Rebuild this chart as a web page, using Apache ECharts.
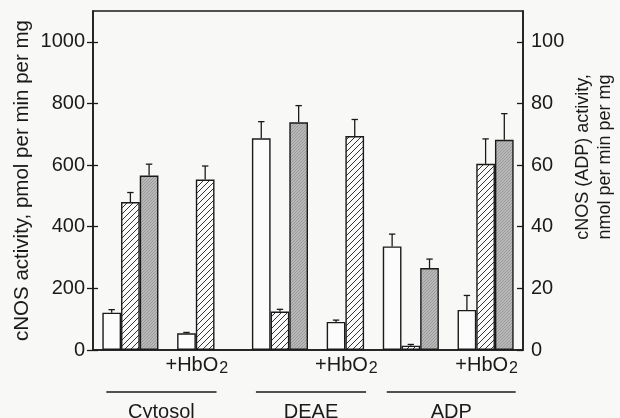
<!DOCTYPE html>
<html>
<head>
<meta charset="utf-8">
<script src="https://cdn.jsdelivr.net/npm/echarts@6/dist/echarts.min.js"></script>
<style>
  html, body { margin: 0; padding: 0; background: #f8f8f6; }
  #chart { width: 620px; height: 418px; }
</style>
</head>
<body>
<div id="chart"></div>
<script>
// bar order: Cytosol, Cytosol+HbO2, DEAE, DEAE+HbO2, ADP, ADP+HbO2
// Cytosol/DEAE read on left axis (pmol), ADP on right axis (nmol)
const fractions = ["Cytosol", "DEAE", "ADP"];
const openBars = [121, 54, 687, 91, 33.6, 13.0];
const openErr = [10, 3, 54, 6, 4.0, 4.7];
const hatchedBars = [480, 553, 125, 694, 1.4, 60.4];
const hatchedErr = [31, 44, 7, 54, 0.4, 8.1];
const shadedBars = [566, null, 739, null, 26.6, 68.2];
const shadedErr = [37, null, 54, null, 2.9, 8.5];
const leftTicks = [0, 200, 400, 600, 800, 1000];
const rightTicks = [0, 20, 40, 60, 80, 100];

// layout: slot on a fine category axis where each cluster starts, and which y axis it uses
const SLOTS = 24;
const clusterStart = [1, 5, 9, 13, 16, 20];
const clusterAxis = [0, 0, 0, 0, 1, 1];
const FONT = "Liberation Sans, Arial, sans-serif";
const INK = "#1a1a1a";

function makePattern(kind) {
  const c = document.createElement("canvas");
  const s = kind === "hatch" ? 6 : 3;
  c.width = s; c.height = s;
  const g = c.getContext("2d");
  if (kind === "hatch") {
    g.fillStyle = "#fbfbfb";
    g.fillRect(0, 0, s, s);
    g.strokeStyle = "#333";
    g.lineWidth = 1;
    g.beginPath();
    g.moveTo(-1, s + 1); g.lineTo(s + 1, -1);
    g.moveTo(-1, 1); g.lineTo(1, -1);
    g.moveTo(s - 1, s + 1); g.lineTo(s + 1, s - 1);
    g.stroke();
  } else {
    g.fillStyle = "#b8b8b8";
    g.fillRect(0, 0, s, s);
    g.fillStyle = "#9a9a9a";
    g.fillRect(0, 0, 1, 1);
    g.fillRect(2, 1, 1, 1);
    g.fillRect(1, 2, 1, 1);
  }
  return { image: c, repeat: "repeat" };
}

function textWidth(str, size) {
  const g = document.createElement("canvas").getContext("2d");
  g.font = size + "px " + FONT;
  return g.measureText(str).width;
}

const fills = [
  { vals: openBars, errs: openErr, color: "#fcfcfc" },
  { vals: hatchedBars, errs: hatchedErr, color: makePattern("hatch") },
  { vals: shadedBars, errs: shadedErr, color: makePattern("shade") },
];

const slotNames = Array.from({ length: SLOTS }, (_, i) => "s" + i);

const series = [];
const errData = [[], []];
fills.forEach((f, k) => {
  [0, 1].forEach((ax) => {
    const data = new Array(SLOTS).fill(null);
    f.vals.forEach((v, c) => {
      if (v == null || clusterAxis[c] !== ax) return;
      const slot = clusterStart[c] + k;
      data[slot] = v;
      errData[ax].push([slot, v, f.errs[c]]);
    });
    series.push({
      type: "bar",
      yAxisIndex: ax,
      data,
      barWidth: 18.7,
      barGap: "-100%",
      itemStyle: { color: f.color, borderColor: INK, borderWidth: 1.4 },
      emphasis: { disabled: true },
      silent: true,
    });
  });
});

function renderErr(params, api) {
  const x = api.value(0), v = api.value(1), e = api.value(2);
  const p0 = api.coord([x, v]);
  const p1 = api.coord([x, v + e]);
  const hw = 3.2;
  const st = { stroke: INK, lineWidth: 1.3 };
  return {
    type: "group",
    children: [
      { type: "line", shape: { x1: p0[0], y1: p0[1], x2: p1[0], y2: p1[1] }, style: st },
      { type: "line", shape: { x1: p1[0] - hw, y1: p1[1], x2: p1[0] + hw, y2: p1[1] }, style: st },
    ],
  };
}

[0, 1].forEach((ax) => {
  series.push({
    type: "custom",
    yAxisIndex: ax,
    data: errData[ax],
    encode: { x: 0, y: 1 },
    renderItem: renderErr,
    z: 5,
    silent: true,
  });
});

const chart = echarts.init(document.getElementById("chart"), null, { renderer: "canvas" });

const tickLabel = {
  color: INK, fontSize: 20, fontFamily: FONT, margin: 8,
  formatter: (v) => String(v),
};
const valueAxisBase = {
  type: "value",
  min: 0,
  splitLine: { show: false },
  axisLine: { show: true, lineStyle: { color: INK, width: 1.5 } },
};

chart.setOption({
  backgroundColor: "#f8f8f6",
  animation: false,
  grid: { left: 93, right: 97, top: 11, bottom: 68, show: true, borderColor: INK, borderWidth: 1.5 },
  xAxis: {
    type: "category",
    data: slotNames,
    boundaryGap: false,
    axisLine: { lineStyle: { color: INK, width: 1.5 } },
    axisTick: { show: false },
    axisLabel: { show: false },
  },
  yAxis: [
    Object.assign({}, valueAxisBase, {
      position: "left",
      max: 1100,
      interval: 200,
      axisTick: { show: true, length: 6, customValues: leftTicks, lineStyle: { color: INK, width: 1.3 } },
      axisLabel: Object.assign({}, tickLabel, { customValues: leftTicks }),
      name: "cNOS activity, pmol per min per mg",
      nameLocation: "middle",
      nameRotate: 90,
      nameGap: 60,
      nameMoveOverlap: false,
      nameTextStyle: { color: INK, fontSize: 20.5, fontFamily: FONT },
    }),
    Object.assign({}, valueAxisBase, {
      position: "right",
      max: 110,
      interval: 20,
      axisTick: { show: true, inside: true, length: 6, customValues: rightTicks, lineStyle: { color: INK, width: 1.3 } },
      axisLabel: Object.assign({}, tickLabel, { customValues: rightTicks }),
    }),
    Object.assign({}, valueAxisBase, {
      position: "left",
      max: 1100,
      interval: 200,
      axisLine: { show: false },
      axisTick: { show: true, inside: true, length: 5, customValues: leftTicks, lineStyle: { color: INK, width: 1.3 } },
      axisLabel: { show: false },
    }),
  ],
  series,
});

// group labels under the axis, placed from the category scale
const px = (slot) => chart.convertToPixel({ xAxisIndex: 0 }, slot);
const half = (px(1) - px(0)) / 2;
const graphics = [];
const mainW = textWidth("+HbO", 20);
const subW = textWidth("2", 16);
fractions.forEach((name, g) => {
  const plain = 2 * g, treated = 2 * g + 1;
  const nTreated = shadedBars[treated] == null ? 2 : 3;
  const left = px(clusterStart[plain]) - half;
  const right = px(clusterStart[treated] + nTreated - 1) + half;
  const mid = (px(clusterStart[treated]) + px(clusterStart[treated] + nTreated - 1)) / 2;
  const x0 = mid + 1 - (mainW + subW + 1) / 2;
  graphics.push({
    type: "text",
    x: x0, y: 365,
    style: { text: "+HbO", fontSize: 20, fontFamily: FONT, fill: INK, align: "left", verticalAlign: "middle" },
  });
  graphics.push({
    type: "text",
    x: x0 + mainW + 1, y: 369,
    style: { text: "2", fontSize: 16, fontFamily: FONT, fill: INK, align: "left", verticalAlign: "middle" },
  });
  graphics.push({
    type: "line",
    shape: { x1: left + 4, y1: 392, x2: right + 2, y2: 392 },
    style: { stroke: INK, lineWidth: 1.5 },
  });
  graphics.push({
    type: "text",
    x: (left + right) / 2 + 3, y: 412,
    style: { text: name, fontSize: 20, fontFamily: FONT, fill: INK, align: "center", verticalAlign: "middle" },
  });
});
graphics.push({
  type: "text",
  x: 594, y: 157,
  rotation: Math.PI / 2,
  style: {
    text: "cNOS (ADP) activity,\nnmol per min per mg",
    fontSize: 18, fontFamily: FONT, fill: INK, lineHeight: 22,
    align: "center", verticalAlign: "middle",
  },
});
chart.setOption({ graphic: graphics });
</script>
</body>
</html>
